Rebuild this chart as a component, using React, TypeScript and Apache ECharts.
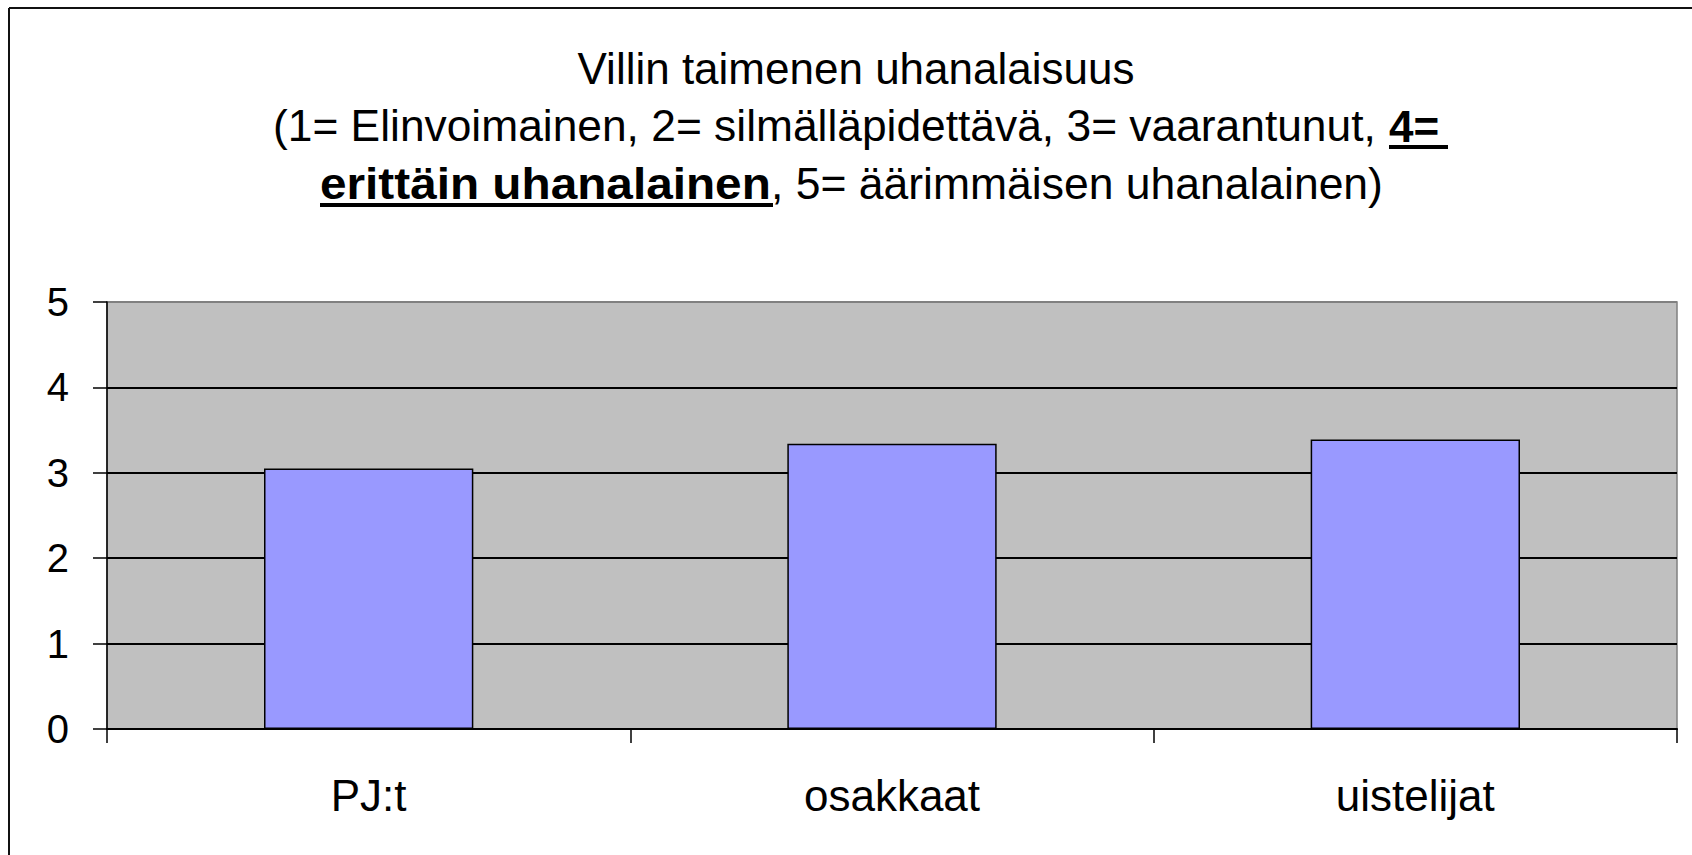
import React, { useEffect, useRef } from "react";
import * as echarts from "echarts";

const categories = ["PJ:t", "osakkaat", "uistelijat"];
const values = [3.05, 3.34, 3.39];
const yTicks = [0, 1, 2, 3, 4, 5];

const titleLine1 = "Villin taimenen uhanalaisuus";
const titleLine2Normal = "(1= Elinvoimainen, 2= silmälläpidettävä, 3= vaarantunut, ";
const titleLine2Bold = "4=";
const titleLine3Bold = "erittäin uhanalainen";
const titleLine3Normal = ", 5= äärimmäisen uhanalainen)";

const FONT = "'Liberation Sans', Arial, Helvetica, sans-serif";

function measure(text: string, bold: boolean, size: number): number {
  const c = document.createElement("canvas");
  const ctx = c.getContext("2d")!;
  ctx.font = `${bold ? "bold " : ""}${size}px ${FONT}`;
  return ctx.measureText(text).width;
}

export default function App() {
  const ref = useRef<HTMLDivElement>(null);
  useEffect(() => {
    document.body.style.margin = "0";
    if (!ref.current) return;
    const chart = echarts.init(ref.current, undefined, { renderer: "svg" });
    const fs = 44;
    const b1 = 83, b2 = 141, b3 = 199;
    const mid = (b: number) => b - 15;

    // layout targets of the title segments (px)
    const l2Left = 273, l2BoldLeft = 1389, l2UnderlineEnd = 1448;
    const l3Left = 320, l3BoldEnd = 771, l3End = 1383;

    const w2n = measure(titleLine2Normal, false, fs);
    const w3b = measure(titleLine3Bold, true, fs);
    const w3n = measure(titleLine3Normal, false, fs);
    const s2n = (l2BoldLeft - l2Left) / w2n;
    const s3b = (l3BoldEnd - l3Left) / w3b;
    const s3n = (l3End - l3BoldEnd) / w3n;

    const textStyle = (text: string, bold: boolean) => ({
      text,
      fill: "#000",
      font: `${bold ? "bold " : ""}${fs}px ${FONT}`,
      align: "left",
      verticalAlign: "middle",
    });

    chart.setOption({
      animation: false,
      backgroundColor: "#fff",
      graphic: [
        { type: "line", shape: { x1: 9, y1: 8, x2: 9, y2: 855 }, style: { stroke: "#111", lineWidth: 2 } },
        { type: "line", shape: { x1: 9, y1: 8, x2: 1692, y2: 8 }, style: { stroke: "#111", lineWidth: 2 } },
        {
          type: "text",
          x: 856,
          y: mid(b1),
          style: { ...textStyle(titleLine1, false), align: "center" },
        },
        { type: "text", x: l2Left, y: mid(b2), scaleX: s2n, style: textStyle(titleLine2Normal, false) },
        { type: "text", x: l2BoldLeft, y: mid(b2), style: textStyle(titleLine2Bold, true) },
        {
          type: "line",
          shape: { x1: l2BoldLeft, y1: b2 + 6, x2: l2UnderlineEnd, y2: b2 + 6 },
          style: { stroke: "#000", lineWidth: 4 },
        },
        { type: "text", x: l3Left, y: mid(b3), scaleX: s3b, style: textStyle(titleLine3Bold, true) },
        { type: "text", x: l3BoldEnd, y: mid(b3), scaleX: s3n, style: textStyle(titleLine3Normal, false) },
        {
          type: "line",
          shape: { x1: l3Left, y1: b3 + 6, x2: l3BoldEnd + 2, y2: b3 + 6 },
          style: { stroke: "#000", lineWidth: 4 },
        },
      ],
      grid: {
        left: 107,
        right: 15,
        top: 302,
        bottom: 126,
        show: true,
        backgroundColor: "#C0C0C0",
        borderColor: "#808080",
        borderWidth: 1.5,
      },
      xAxis: {
        type: "category",
        data: categories,
        boundaryGap: true,
        axisLine: { show: true, lineStyle: { color: "#000", width: 2 } },
        axisTick: { show: true, length: 14, lineStyle: { color: "#000", width: 1.5 } },
        axisLabel: { color: "#000", fontSize: 44, fontFamily: FONT, margin: 44 },
        splitLine: { show: false },
      },
      yAxis: {
        type: "value",
        min: 0,
        max: 5,
        interval: 1,
        axisLine: { show: true, lineStyle: { color: "#000", width: 1.5 } },
        axisTick: { show: true, length: 14, lineStyle: { color: "#000", width: 1.5 } },
        axisLabel: {
          color: "#000",
          fontSize: 40,
          fontFamily: FONT,
          margin: 38,
          formatter: (v: number) => (yTicks.includes(v) ? String(v) : ""),
        },
        splitLine: {
          show: true,
          lineStyle: { color: ["#000", "#000", "#000", "#000", "#000", "#808080"], width: 2 },
        },
      },
      series: [
        {
          type: "bar",
          data: values,
          barCategoryGap: "60%",
          itemStyle: { color: "#9999FF", borderColor: "#000", borderWidth: 1.5 },
        },
      ],
    });
    return () => chart.dispose();
  }, []);
  return <div ref={ref} style={{ width: 1692, height: 855 }} />;
}
